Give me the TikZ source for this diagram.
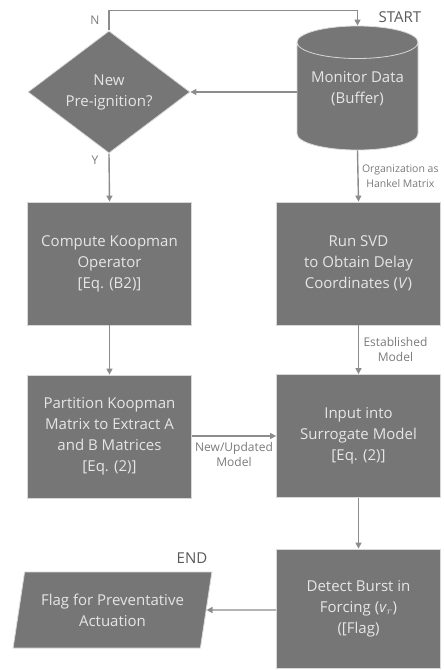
\documentclass[tikz,border=0pt]{standalone}
\usepackage{fontspec}
\setmainfont{Open Sans}
\usepackage{tikz}
\usetikzlibrary{arrows.meta,positioning,calc,shapes.geometric}
\usepackage{xcolor}
\definecolor{boxfill}{HTML}{767676}
\definecolor{boxtext}{HTML}{E6E6E6}
\definecolor{boxline}{HTML}{D8D8D8}
\definecolor{linec}{HTML}{8C8C8C}
\definecolor{labc}{HTML}{7A7A7A}

\begin{document}
\begin{tikzpicture}[x=1pt,y=-1pt,
   >={Triangle[length=6pt,width=6pt]},
   proc/.style={rectangle,draw=boxline,fill=boxfill,line width=0.8pt,text=boxtext,
     align=center,inner sep=0pt,minimum width=164pt,minimum height=123pt,
     font=\fontsize{15}{21}\selectfont},
   decis/.style={diamond,draw=boxline,fill=boxfill,line width=0.8pt,text=boxtext,
     align=center,inner sep=0pt,minimum width=162pt,minimum height=120pt,
     font=\fontsize{15}{21}\selectfont},
   store/.style={cylinder,shape border rotate=90,aspect=0.35,draw=boxline,fill=boxfill,
     line width=0.8pt,text=boxtext,align=center,inner sep=0pt,
     minimum width=121pt,minimum height=124pt,font=\fontsize{15}{21}\selectfont},
   outp/.style={trapezium,trapezium left angle=74,trapezium right angle=106,
     trapezium stretches=true,draw=boxline,fill=boxfill,line width=0.8pt,text=boxtext,
     align=center,inner sep=0pt,minimum width=199pt,minimum height=76pt,
     font=\fontsize{15}{21}\selectfont},
   arr/.style={->,line width=1.4pt,linec},
   lab/.style={text=labc,align=center,font=\fontsize{12}{15}\selectfont},
   term/.style={text=black!65,font=\fontsize{15}{16}\selectfont}]
  \useasboundingbox (0,0) rectangle (444,670);
  % left column
  \node[decis] (newpi) at (109,92) {New\\Pre-ignition?};
  \node[proc] (koop) at (109.5,263.5) {Compute Koopman\\Operator\\{[}Eq. (B2)]};
  \node[proc] (part) at (109.5,436.5) {Partition Koopman\\Matrix to Extract A\\and B Matrices\\{[}Eq. (2)]};
  \node[outp] (flag) at (112.5,610) {Flag for Preventative\\Actuation};
  % right column
  \node[store,anchor=shape center,text depth=17pt] (mon) at (357.5,88) {Monitor Data\\(Buffer)};
  \node[proc] (svd) at (358.5,263.5) {Run SVD\\to Obtain Delay\\Coordinates (\textit{V})};
  \node[proc] (surr) at (358.5,436) {Input into\\Surrogate Model\\{[}Eq. (2)]};
  \node[proc,minimum height=119pt] (burst) at (358.5,608.5) {Detect Burst in\\Forcing (\textit{v}$_r$)\\({[}Flag)};
  % terminals
  \node[term] (start) at (400,17) {START};
  \node[term] (fin) at (192,558) {END};
  % connectors
  \draw[arr] (mon.west |- newpi.east) -- (newpi.east);
  \draw[arr] (newpi.north) -- ++(0,-20) coordinate (ntop) -| (mon.north);
  \node[lab] at (95,20) {N};
  \draw[arr] (newpi.south) -- (koop.north);
  \node[lab] at (95,160) {Y};
  \draw[arr] (koop) -- (part);
  \draw[arr] (mon.south) -- node[lab,font=\fontsize{10.5}{15}\selectfont,right=0pt,anchor=west] {Organization as\\Hankel Matrix} (svd.north);
  \draw[arr] (svd) -- node[lab,right=1pt,anchor=west] {Established\\Model} (surr);
  \draw[arr] (part.east |- surr.west) -- node[lab,below=2pt] {New/Updated\\Model} (surr.west);
  \draw[arr] (surr) -- (burst);
  \draw[arr] (burst.west |- flag) -- (flag.east);
\end{tikzpicture}
\end{document}
